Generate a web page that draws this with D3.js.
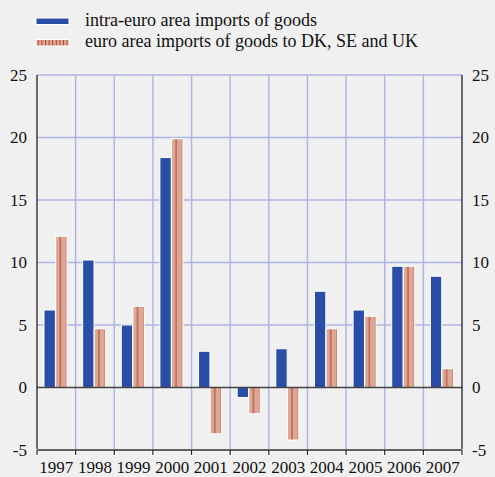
<!DOCTYPE html>
<html>
<head>
<meta charset="utf-8">
<script src="https://cdn.jsdelivr.net/npm/d3@7"></script>
<style>
  body { margin: 0; background: #f0f0f0; }
  svg { display: block; font-family: "Liberation Serif", "Times New Roman", serif; }
</style>
</head>
<body>
<svg></svg>
<script>
let years = ["1997", "1998", "1999", "2000", "2001", "2002", "2003", "2004", "2005", "2006", "2007"]
let intraEuro = [6.2, 10.2, 5.0, 18.4, 2.9, -0.8, 3.1, 7.7, 6.2, 9.7, 8.9]
let toDkSeUk = [12.1, 4.7, 6.5, 19.9, -3.7, -2.1, -4.2, 4.7, 5.7, 9.7, 1.5]
let seriesNames = ["intra-euro area imports of goods", "euro area imports of goods to DK, SE and UK"]
let yTicks = [-5, 0, 5, 10, 15, 20, 25]

var W = 495, H = 477
var margin = {top: 75, right: 33, bottom: 27, left: 37}
var graphWidth = W - margin.left - margin.right
var graphHeight = H - margin.top - margin.bottom

var svg = d3.select("svg")
    .attr("width", W)
    .attr("height", H)
    .style("background", "#f0f0f0")

// stripe patterns for the second series
var defs = svg.append("defs")
function stripes(id, step) {
    let p = defs.append("pattern")
        .attr("id", id)
        .attr("patternUnits", "userSpaceOnUse")
        .attr("width", step).attr("height", 10)
    p.append("rect").attr("width", step).attr("height", 10).attr("fill", "#dba895")
    p.append("rect").attr("x", step / 2).attr("width", 1).attr("height", 10).attr("fill", "#b8402a")
}
stripes("stripe", 6.5)
stripes("stripeLegend", 3.6)

var g = svg.append("g")
    .attr("transform", `translate(${margin.left}, ${margin.top})`)

let x0 = d3.scaleBand().domain(years).range([0, graphWidth])
let x1 = d3.scaleBand().domain([0, 1]).range([7, 30]).paddingInner(0.02)
let y = d3.scaleLinear().domain([-5, 25]).range([graphHeight, 0])

var gridColor = "#b1b5e5"

// horizontal grid
g.append("g").selectAll("line")
    .data(yTicks.filter(d => d > 0))
    .enter().append("line")
    .attr("x1", 0).attr("x2", graphWidth)
    .attr("y1", d => y(d)).attr("y2", d => y(d))
    .attr("stroke", gridColor).attr("stroke-width", 1.5)

// vertical grid at category boundaries
g.append("g").selectAll("line")
    .data(years.slice(1))
    .enter().append("line")
    .attr("x1", d => x0(d)).attr("x2", d => x0(d))
    .attr("y1", 0).attr("y2", graphHeight)
    .attr("stroke", gridColor).attr("stroke-width", 1.5)

// bars
let groups = g.selectAll(".year")
    .data(years).enter().append("g")
    .attr("transform", d => `translate(${x0(d)},0)`)

groups.selectAll("rect")
    .data((d, i) => [intraEuro[i], toDkSeUk[i]])
    .enter().append("rect")
    .attr("x", (d, j) => x1(j))
    .attr("width", x1.bandwidth())
    .attr("y", d => y(Math.max(0, d)))
    .attr("height", d => Math.abs(y(d) - y(0)))
    .attr("fill", (d, j) => j == 0 ? "#2a4ea8" : "url(#stripe)")
    .attr("stroke", "#ffffff")
    .attr("stroke-width", 1)

// zero line
g.append("line")
    .attr("x1", 0).attr("x2", graphWidth)
    .attr("y1", y(0)).attr("y2", y(0))
    .attr("stroke", "#444").attr("stroke-width", 1.6)

// left / right axis lines
g.append("line").attr("x1", 0).attr("x2", 0).attr("y1", 0).attr("y2", graphHeight)
    .attr("stroke", "#111").attr("stroke-width", 1.2)
g.append("line").attr("x1", graphWidth).attr("x2", graphWidth).attr("y1", 0).attr("y2", graphHeight)
    .attr("stroke", "#111").attr("stroke-width", 1.2)

// bottom axis with boundary ticks
let bounds = years.map(d => x0(d)).concat([graphWidth])
let bottom = g.append("g").attr("transform", `translate(0, ${graphHeight})`)
bottom.selectAll(".halo").data(bounds).enter().append("line")
    .attr("x1", d => d).attr("x2", d => d).attr("y1", -1).attr("y2", 6)
    .attr("stroke", "#fff").attr("stroke-width", 3.5)
bottom.append("line").attr("x1", 0).attr("x2", graphWidth)
    .attr("stroke", "#333").attr("stroke-width", 1.5)
bottom.selectAll(".tk").data(bounds).enter().append("line")
    .attr("x1", d => d).attr("x2", d => d).attr("y1", 0).attr("y2", 5)
    .attr("stroke", "#222").attr("stroke-width", 1.2)
bottom.selectAll("text").data(years).enter().append("text")
    .attr("x", d => x0(d) + x0.bandwidth() / 2)
    .attr("y", 23)
    .attr("text-anchor", "middle")
    .attr("font-size", 17)
    .attr("fill", "#111")
    .text(d => d)

// y labels both sides
let yLeft = d3.axisLeft(y).tickValues(yTicks).tickSize(0).tickPadding(10).tickFormat(d => String(d))
let yRight = d3.axisRight(y).tickValues(yTicks).tickSize(0).tickPadding(10).tickFormat(d => String(d))
g.append("g").call(yLeft)
    .call(a => a.select(".domain").remove())
    .selectAll("text").attr("font-size", 17).attr("font-family", "Liberation Serif").attr("fill", "#111")
g.append("g").attr("transform", `translate(${graphWidth},0)`).call(yRight)
    .call(a => a.select(".domain").remove())
    .selectAll("text").attr("font-size", 17).attr("font-family", "Liberation Serif").attr("fill", "#111")

// legend
let legend = svg.append("g").selectAll("g")
    .data(seriesNames).enter().append("g")
    .attr("transform", (d, i) => `translate(36, ${18 + i * 21.5})`)
legend.append("rect")
    .attr("width", 33).attr("height", 6.5)
    .attr("fill", (d, i) => i == 0 ? "#2a4ea8" : "url(#stripeLegend)")
    .attr("stroke", "#fff").attr("stroke-width", 1)
legend.append("text")
    .attr("x", 49).attr("y", 7.5)
    .attr("font-size", 18)
    .attr("fill", "#111")
    .text(d => d)
</script>
</body>
</html>
